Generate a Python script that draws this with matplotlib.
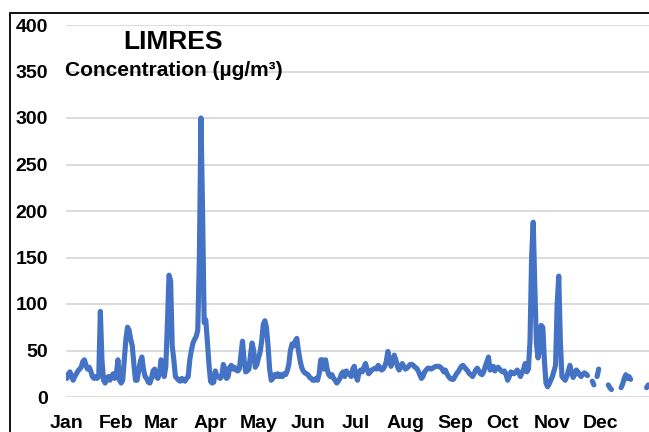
import numpy as np
import matplotlib.pyplot as plt
from matplotlib.patches import Rectangle

plt.rcParams['font.family'] = ['Liberation Sans', 'DejaVu Sans']

# daily concentration (ug/m3), one list per month, None = no data
jan = [20, 25, 27, 22, 18, 22, 25, 28, 30, 32, 38, 40, 34, 30, 32, 28, 22, 20, 22, 20,
       22, 92, 40, 18, 15, 20, 22, 18, 22, 25, 20]
feb = [24, 40, 18, 15, 18, 40, 62, 75, 72, 62, 55, 35, 18, 18, 28, 38, 43, 30, 22, 20,
       16, 15, 20, 28, 30, 22, 20, 25]
mar = [40, 36, 22, 33, 80, 131, 125, 55, 40, 22, 20, 18, 17, 20, 18, 17, 20, 22, 40, 50,
       58, 62, 65, 72, 150, 300, 200, 80, 83, 60, 35]
apr = [17, 15, 16, 28, 22, 22, 20, 22, 35, 30, 20, 22, 32, 34, 30, 32, 29, 28, 30, 45,
       60, 40, 27, 28, 30, 45, 58, 50, 32, 35]
may = [42, 48, 60, 78, 82, 75, 55, 30, 18, 20, 24, 22, 25, 22, 24, 22, 25, 24, 28, 35,
       50, 57, 55, 60, 63, 50, 40, 32, 28, 26, 25]
jun = [24, 21, 20, 18, 18, 20, 18, 25, 40, 40, 30, 40, 30, 24, 22, 24, 20, 18, 15, 17,
       20, 25, 27, 22, 28, 25, 25, 22, 30, 33]
jul = [22, 18, 27, 29, 27, 32, 36, 30, 25, 27, 29, 30, 31, 30, 34, 32, 29, 30, 33, 38,
       49, 40, 33, 38, 45, 40, 33, 29, 32, 36, 33]
aug = [30, 31, 33, 35, 35, 34, 32, 31, 28, 24, 20, 22, 27, 29, 31, 31, 30, 31, 32, 33,
       33, 33, 32, 30, 27, 29, 25, 22, 20, 19, 19]
sep = [22, 25, 27, 30, 33, 34, 32, 30, 28, 25, 24, 22, 25, 29, 31, 28, 25, 24, 27, 33,
       38, 43, 29, 30, 33, 28, 31, 32, 30, 28]
oct_ = [27, 28, 24, 18, 22, 27, 26, 25, 27, 29, 26, 22, 26, 30, 36, 27, 30, 60, 150, 188,
        120, 58, 42, 50, 77, 75, 40, 15, 11, 14, 18]
nov = [22, 28, 34, 100, 130, 60, 22, 20, 18, 22, 28, 34, 26, 21, 24, 29, 27, 24, 22, 24,
       26, 25, 23, None, None, 17, 13, None, 22, 30]
dec = [None, None, None, None, None, 13, 10, 8, None, None, None, None, None, 10, 14, 20,
       24, 20, 22, 19, None, None, None, None, None, None, None, None, None, 10, 13]

month_labels = ["Jan", "Feb", "Mar", "Apr", "May", "Jun",
                "Jul", "Aug", "Sep", "Oct", "Nov", "Dec"]
months = [jan, feb, mar, apr, may, jun, jul, aug, sep, oct_, nov, dec]

vals = np.array([np.nan if v is None else v for m in months for v in m], dtype=float)
days = np.arange(len(vals))
starts = np.cumsum([0] + [len(m) for m in months[:-1]])

W, H = 649, 432
fig = plt.figure(figsize=(W / 100, H / 100), dpi=100)
ax = fig.add_axes([66 / W, 35 / H, 583 / W, 372 / H])

ax.plot(days, vals, color="#4472C4", lw=3.7,
        solid_capstyle="round", solid_joinstyle="round")

ax.set_xlim(-0.5, 364.5)
ax.set_ylim(0, 400)
ax.set_yticks(range(0, 401, 50))
ax.set_xticks(starts)
ax.set_xticklabels(month_labels)
ax.grid(axis="y", color="#D9D9D9", lw=1.3)
ax.set_axisbelow(True)
for s in ax.spines.values():
    s.set_visible(False)
ax.tick_params(axis="both", length=0, labelsize=14)
ax.tick_params(axis="y", pad=13)
ax.tick_params(axis="x", pad=13)
for lab in ax.get_xticklabels() + ax.get_yticklabels():
    lab.set_fontweight("bold")

# outer chart frame (runs off the right and bottom edges)
frame = Rectangle((10 / W, -0.2), 1.0, 1.2 - 13 / H, transform=fig.transFigure,
                  fill=False, ec="black", lw=1.3)
fig.add_artist(frame)

fig.text(173 / W, 1 - 42 / H, "LIMRES", ha="center", va="center",
         fontsize=19, fontweight="bold")
fig.text(174 / W, 1 - 71 / H, "Concentration (\u00b5g/m\u00b3)", ha="center", va="center",
         fontsize=15, fontweight="bold")

fig.savefig("out.png", dpi=100)
